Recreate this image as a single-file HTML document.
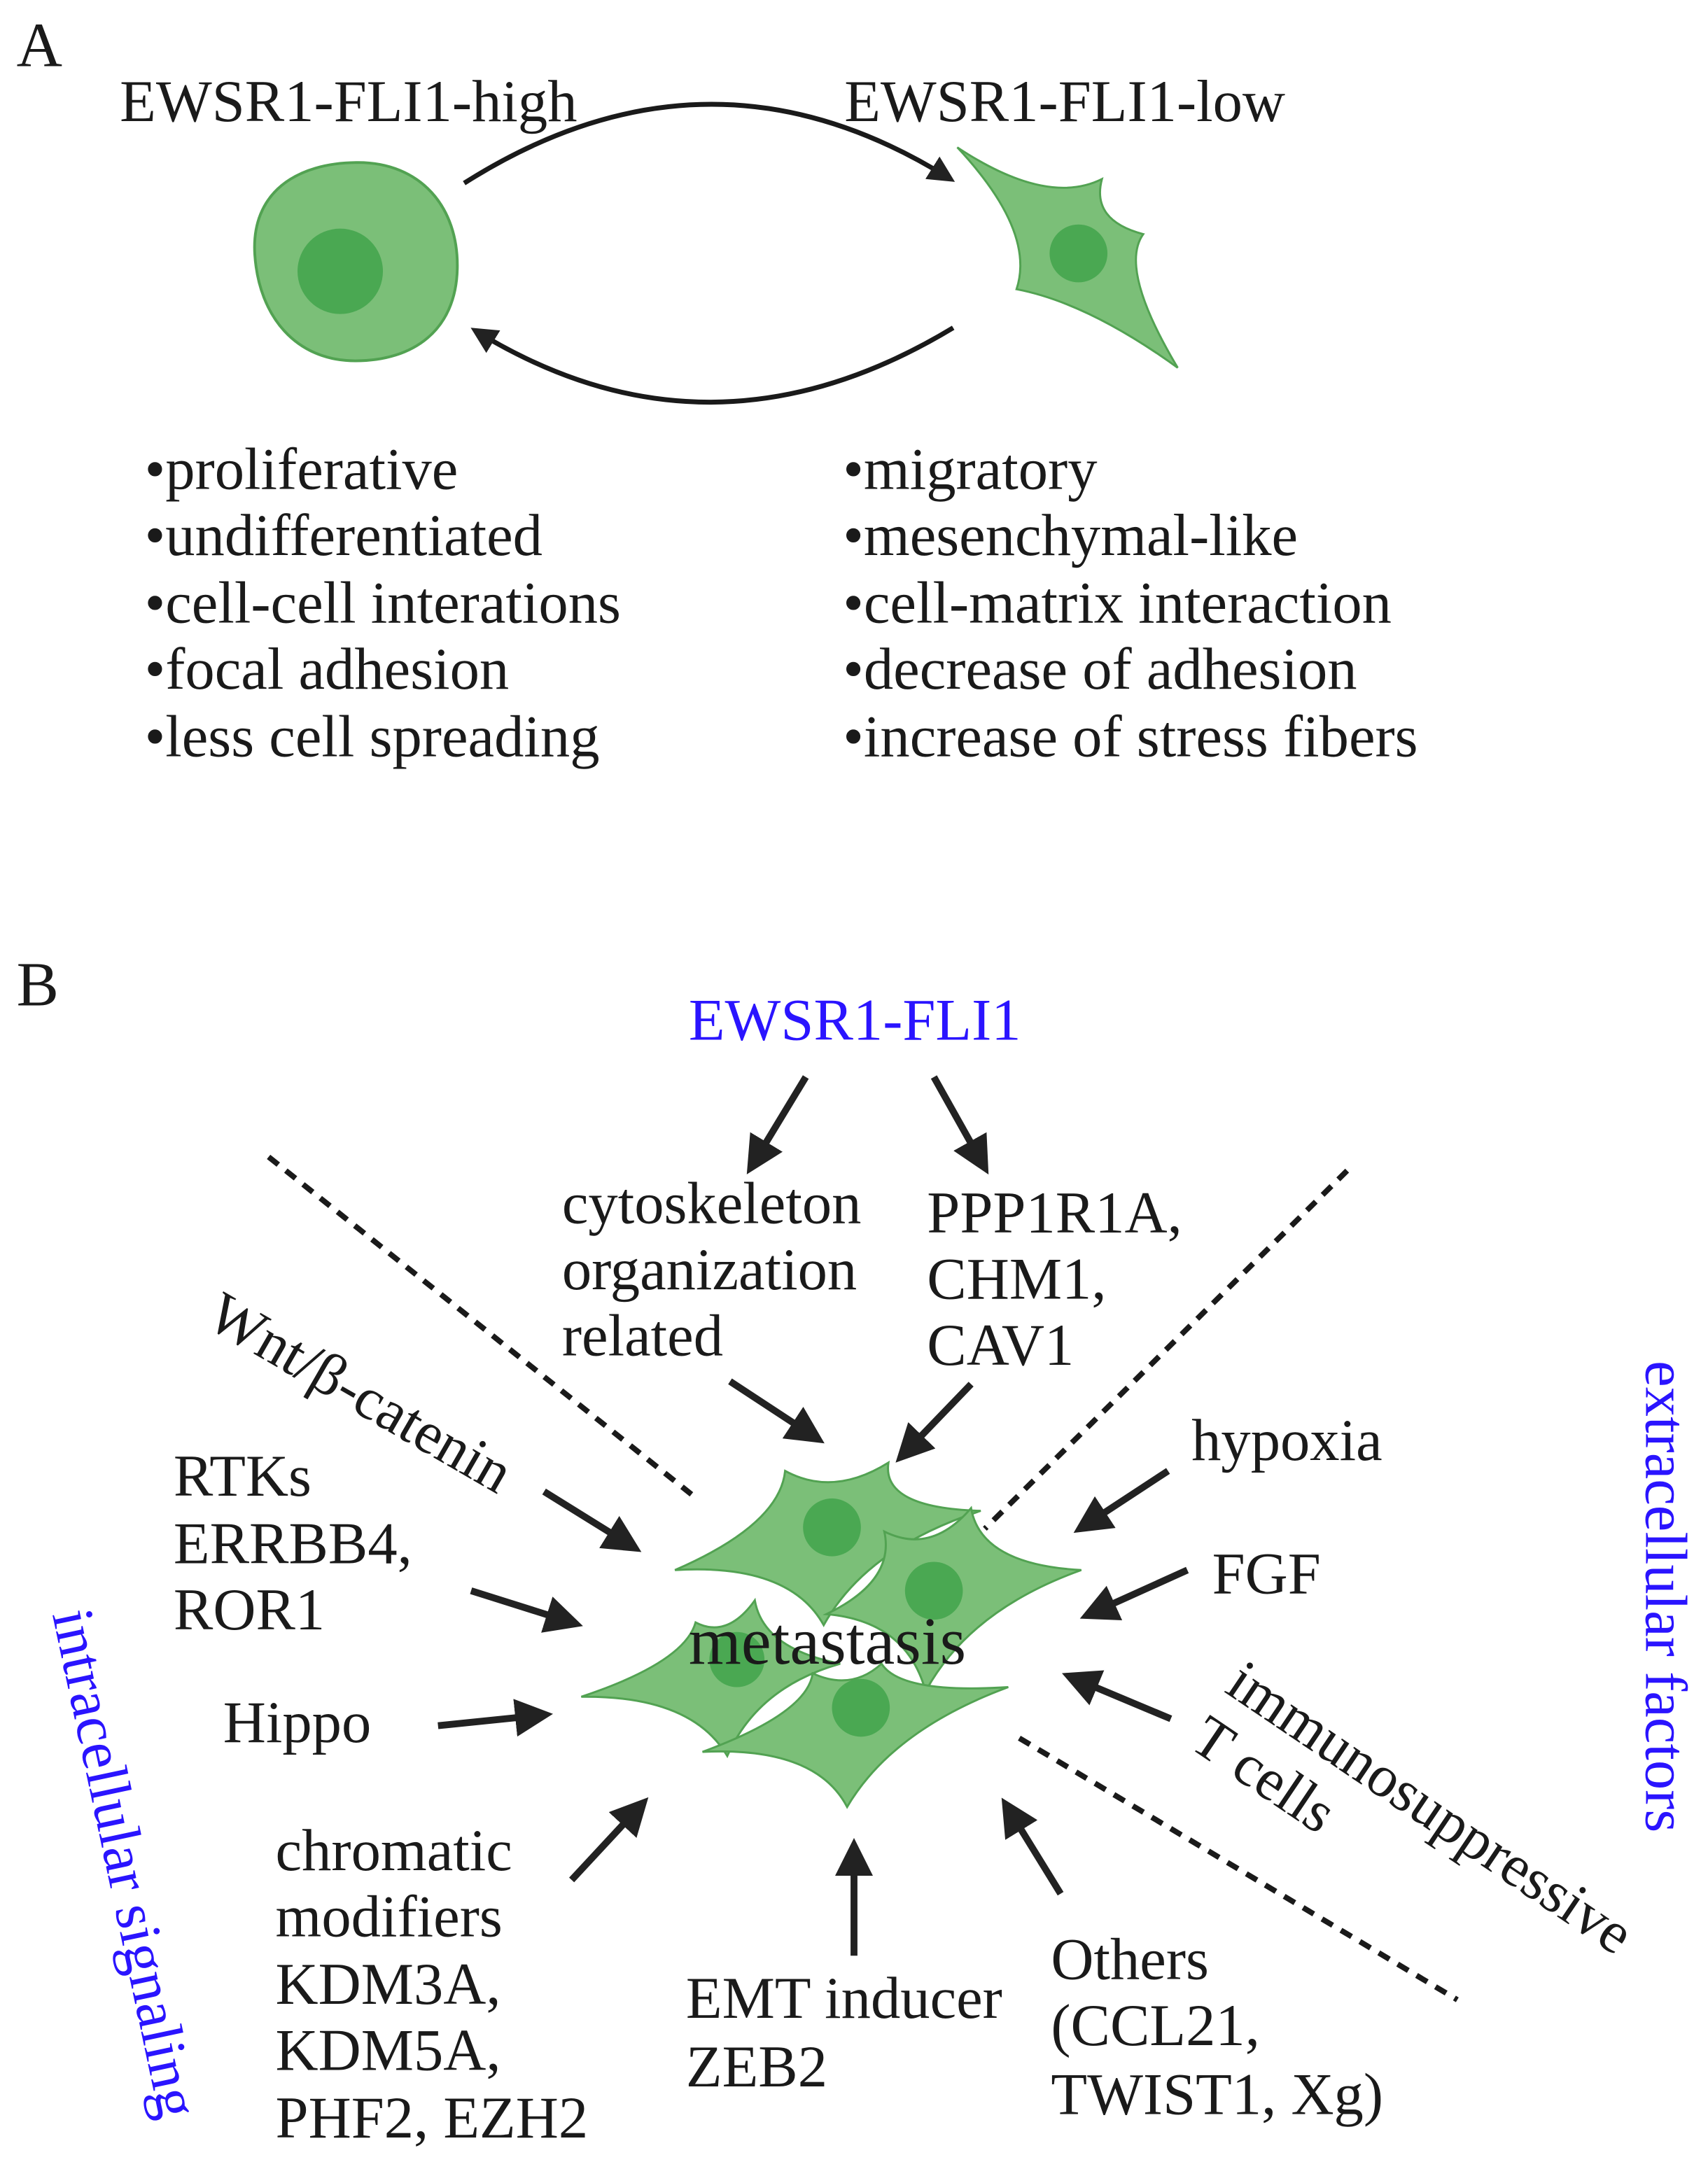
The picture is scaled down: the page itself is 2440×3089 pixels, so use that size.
<!DOCTYPE html>
<html><head><meta charset="utf-8"><style>
html,body{margin:0;padding:0;background:#fff;}
svg{display:block;}
text{font-family:"Liberation Serif",serif;fill:#1a1a1a;}
.b{fill:#2a14ff;}
</style></head><body>
<svg width="2440" height="3089" viewBox="0 0 1240 1569.8" preserveAspectRatio="none" xmlns="http://www.w3.org/2000/svg">
<defs>
<marker id="hb" viewBox="0 0 10 10" refX="8" refY="5" markerWidth="5.5" markerHeight="5.5" orient="auto"><path d="M0,0 L10,5 L0,10 Z" fill="#222"/></marker>
</defs>
<g font-size="43">
<text x="12" y="48" font-size="46">A</text>
<text x="87" y="88">EWSR1-FLI1-high</text>
<text x="613" y="88">EWSR1-FLI1-low</text>
</g>
<path d="M185,185 C182,140 215,118 260,118 C305,118 333,150 332,195 C331,240 300,262 258,262 C215,262 188,230 185,185 Z" fill="#7bbf78" stroke="#52a252" stroke-width="2"/>
<circle cx="247" cy="197" r="31" fill="#4aa852"/>
<path d="M695,107 Q760,150 800,130 Q792,160 830,170 Q812,195 855,267 Q790,220 738,210 Q752,168 695,107 Z" fill="#7bbf78" stroke="#52a252" stroke-width="1.5"/>
<circle cx="783" cy="184" r="21" fill="#4aa852"/>
<path d="M337,133 Q515,20 690,130" fill="none" stroke="#1a1a1a" stroke-width="3.5" marker-end="url(#hb)"/>
<path d="M692,238 Q515,345 345,240" fill="none" stroke="#1a1a1a" stroke-width="3.5" marker-end="url(#hb)"/>
<g font-size="43">
<text x="105" y="355">•proliferative</text>
<text x="105" y="403">•undifferentiated</text>
<text x="105" y="452">•cell-cell interations</text>
<text x="105" y="500">•focal adhesion</text>
<text x="105" y="549">•less cell spreading</text>
<text x="612" y="355">•migratory</text>
<text x="612" y="403">•mesenchymal-like</text>
<text x="612" y="452">•cell-matrix interaction</text>
<text x="612" y="500">•decrease of adhesion</text>
<text x="612" y="549">•increase of stress fibers</text>
<text x="12" y="730" font-size="46">B</text>
<text x="500" y="755" class="b">EWSR1-FLI1</text>
<text x="408" y="888">cytoskeleton</text>
<text x="408" y="936">organization</text>
<text x="408" y="984">related</text>
<text x="673" y="895">PPP1R1A,</text>
<text x="673" y="943">CHM1,</text>
<text x="673" y="991">CAV1</text>
<text x="126" y="1086">RTKs</text>
<text x="126" y="1135">ERRBB4,</text>
<text x="126" y="1183">ROR1</text>
<text x="162" y="1265">Hippo</text>
<text x="200" y="1358">chromatic</text>
<text x="200" y="1406">modifiers</text>
<text x="200" y="1455">KDM3A,</text>
<text x="200" y="1503">KDM5A,</text>
<text x="200" y="1552">PHF2, EZH2</text>
<text x="498" y="1465">EMT inducer</text>
<text x="498" y="1515">ZEB2</text>
<text x="763" y="1437">Others</text>
<text x="763" y="1485">(CCL21,</text>
<text x="763" y="1535">TWIST1, Xg)</text>
<text x="865" y="1060">hypoxia</text>
<text x="880" y="1157">FGF</text>
<text transform="translate(148,962) rotate(30)">Wnt/β-catenin</text>
<text transform="translate(888,1228) rotate(34)">immunosuppressive</text>
<text transform="translate(862,1268) rotate(34)">T cells</text>
<text class="b" transform="translate(1195,988) rotate(90)">extracellular factors</text>
<text class="b" transform="translate(38,1172) rotate(78)">intracellular signaling</text>
</g>
<g stroke="#1a1a1a" stroke-width="4" stroke-dasharray="9,7" fill="none">
<line x1="195" y1="840" x2="502" y2="1085"/>
<line x1="978" y1="850" x2="715" y2="1110"/>
<line x1="740" y1="1262" x2="1058" y2="1452"/>
</g>
<g stroke="#222" stroke-width="5" fill="none" marker-end="url(#hb)">
<line x1="585" y1="782" x2="545" y2="848"/>
<line x1="678" y1="782" x2="715" y2="848"/>
<line x1="530" y1="1003" x2="594" y2="1045"/>
<line x1="705" y1="1005" x2="654" y2="1058"/>
<line x1="395" y1="1083" x2="461" y2="1124"/>
<line x1="342" y1="1155" x2="418" y2="1179"/>
<line x1="318" y1="1253" x2="396" y2="1245"/>
<line x1="415" y1="1365" x2="467" y2="1309"/>
<line x1="620" y1="1420" x2="620" y2="1340"/>
<line x1="770" y1="1375" x2="730" y2="1310"/>
<line x1="862" y1="1140" x2="789" y2="1173"/>
<line x1="848" y1="1068" x2="784" y2="1110"/>
<line x1="850" y1="1248" x2="776" y2="1217"/>
</g>
<g fill="#7bbf78" stroke="#52a252" stroke-width="1.5">
<path d="M490,1140 Q566,1107 570,1068 Q605,1087 645,1062 Q640,1095 712,1097 Q629,1124 598,1180 Q573,1135 490,1140 Z"/>
<path d="M600,1172 Q650,1148 642,1112 Q676,1129 705,1095 Q712,1136 785,1140 Q704,1169 672,1228 Q658,1177 600,1172 Z"/>
<path d="M422,1232 Q497,1207 505,1178 Q528,1190 548,1162 Q554,1197 610,1208 Q550,1225 528,1275 Q502,1231 422,1232 Z"/>
<path d="M510,1272 Q586,1244 590,1215 Q618,1228 640,1208 Q654,1230 732,1225 Q648,1256 615,1312 Q592,1268 510,1272 Z"/>
</g>
<g fill="#4aa852">
<circle cx="604" cy="1109" r="21"/>
<circle cx="678" cy="1155" r="21"/>
<circle cx="535" cy="1205" r="20"/>
<circle cx="625" cy="1240" r="21"/>
</g>
<text x="500" y="1208" font-size="49">metastasis</text>
</svg>
</body></html>
